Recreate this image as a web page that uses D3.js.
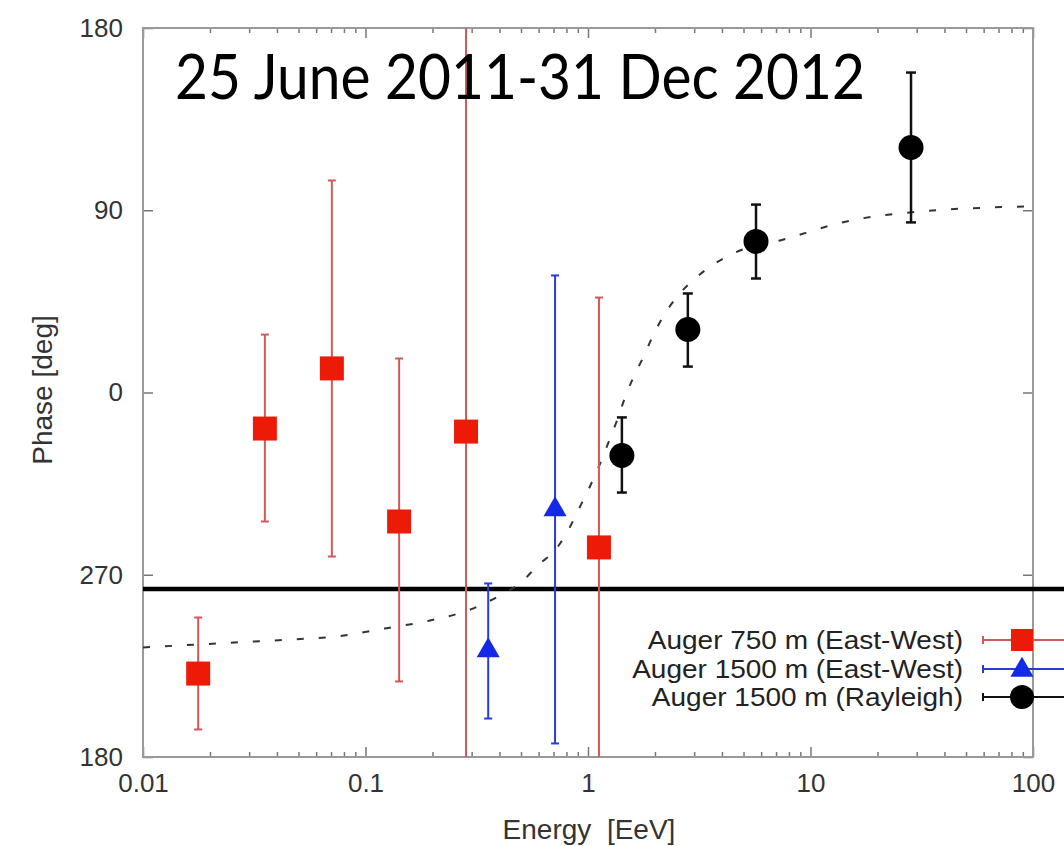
<!DOCTYPE html>
<html>
<head>
<meta charset="utf-8">
<script src="https://cdn.jsdelivr.net/npm/d3@7"></script>
<style>
  html, body { margin: 0; padding: 0; background: #fff; }
  svg { display: block; }
  .tick text { font-family: "Liberation Sans", Arial, sans-serif; fill: #333; }
</style>
</head>
<body>
<svg id="chart" width="1064" height="846"></svg>
<script>
// Auger 750 m array, East-West method
const energy750 = [0.0177, 0.0353, 0.0706, 0.1416, 0.283, 1.12];
const phase750  = [-138.8, -17.8, 11.9, -63.7, -19.3, -76.5];
const low750    = [-166.4, -63.7, -81.0, -142.7, -200, -200];
const high750   = [-111.1, 28.6, 104.7, 16.8, 200, 46.9];

// Auger 1500 m array, East-West method
const energyEW = [0.356, 0.711];
const phaseEW  = [-126.9, -57.3];
const lowEW    = [-161.0, -173.3];
const highEW   = [-94.3, 57.8];

// Auger 1500 m array, Rayleigh analysis
const energyRay = [1.42, 2.81, 5.69, 28.3];
const phaseRay  = [-31.1, 31.1, 74.6, 121.0];
const lowRay    = [-49.4, 12.8, 56.3, 84.0];
const highRay   = [-12.3, 48.9, 92.8, 158.0];

// Fitted phase curve (dashed)
const fitEnergy = [0.01, 0.0217, 0.0458, 0.0745, 0.1225, 0.195, 0.304, 0.402, 0.494, 0.608, 0.697, 0.805, 0.902, 1.01, 1.11, 1.23, 1.35, 1.45, 1.59, 1.77, 1.96, 2.22, 2.54, 3.03, 3.72, 4.58, 7.3, 15.1, 31, 66, 100];
const fitPhase  = [-125.9, -123.9, -122.0, -120.5, -116.5, -112.6, -106.7, -100.2, -94.3, -84.4, -79.0, -69.1, -58.3, -47.4, -37.5, -25.2, -13.8, -4.0, 6.9, 17.3, 28.1, 39.0, 47.9, 56.3, 63.7, 69.1, 75.1, 84.9, 89.4, 91.4, 91.9];

// Reference phase (solid horizontal line)
const refPhase = -97;

const xTicks = [0.01, 0.1, 1, 10, 100];
const xTickLabels = ["0.01", "0.1", "1", "10", "100"];
const yTicks = [-180, -90, 0, 90, 180];
const yTickLabels = ["180", "270", "0", "90", "180"];

const legendLabels = ["Auger 750 m (East-West)", "Auger 1500 m (East-West)", "Auger 1500 m (Rayleigh)"];
const titleText = "25 June 2011-31 Dec 2012";

const svg = d3.select("#chart");
const W = 1064, H = 846;
const plotLeft = 143, plotRight = 1033, plotTop = 28, plotBottom = 757;

const x = d3.scaleLog().domain([0.01, 100]).range([plotLeft, plotRight]);
const y = d3.scaleLinear().domain([-180, 180]).range([plotBottom, plotTop]);

svg.append("rect").attr("width", W).attr("height", H).attr("fill", "#fff");

svg.append("defs").append("clipPath").attr("id", "plotClip")
  .append("rect").attr("x", plotLeft).attr("y", plotTop)
  .attr("width", plotRight - plotLeft).attr("height", plotBottom - plotTop);

// minor log ticks
const minor = [];
for (let d = 0.01; d < 100; d *= 10) for (let k = 2; k <= 9; k++) minor.push(+(d * k).toPrecision(3));

function styleAxis(g) {
  g.select(".domain").remove();
  g.selectAll(".tick line").attr("stroke", "#777").attr("stroke-width", 1.5);
}

svg.append("g").attr("transform", `translate(0,${plotBottom})`)
  .call(d3.axisBottom(x).tickValues(minor).tickFormat("").tickSize(-5)).call(styleAxis);
svg.append("g").attr("transform", `translate(0,${plotTop})`)
  .call(d3.axisTop(x).tickValues(minor).tickFormat("").tickSize(-5)).call(styleAxis);
svg.append("g").attr("transform", `translate(0,${plotTop})`)
  .call(d3.axisTop(x).tickValues(xTicks).tickFormat("").tickSize(-10)).call(styleAxis);

const xAxis = svg.append("g").attr("transform", `translate(0,${plotBottom})`)
  .call(d3.axisBottom(x).tickValues(xTicks).tickFormat((d, i) => xTickLabels[i]).tickSize(-10).tickPadding(17))
  .call(styleAxis);
xAxis.selectAll(".tick text").attr("font-size", 26);

const yAxis = svg.append("g").attr("transform", `translate(${plotLeft},0)`)
  .call(d3.axisLeft(y).tickValues(yTicks).tickFormat((d, i) => yTickLabels[i]).tickSize(-10).tickPadding(20))
  .call(styleAxis);
yAxis.selectAll(".tick text").attr("font-size", 26);
svg.append("g").attr("transform", `translate(${plotRight},0)`)
  .call(d3.axisRight(y).tickValues(yTicks).tickFormat("").tickSize(-10)).call(styleAxis);

// frame
svg.append("rect").attr("x", plotLeft).attr("y", plotTop)
  .attr("width", plotRight - plotLeft).attr("height", plotBottom - plotTop)
  .attr("fill", "none").attr("stroke", "#999").attr("stroke-width", 2);

// axis titles
svg.append("text").attr("x", 589).attr("y", 839).attr("text-anchor", "middle")
  .attr("font-family", "Liberation Sans, Arial, sans-serif").attr("font-size", 28).attr("fill", "#333")
  .attr("xml:space", "preserve").text("Energy  [EeV]");
svg.append("text").attr("transform", "translate(52,390) rotate(-90)").attr("text-anchor", "middle")
  .attr("font-family", "Liberation Sans, Arial, sans-serif").attr("font-size", 28).attr("fill", "#333")
  .text("Phase [deg]");

// reference line
svg.append("line").attr("x1", plotLeft).attr("x2", W).attr("y1", y(refPhase)).attr("y2", y(refPhase))
  .attr("stroke", "#000").attr("stroke-width", 4.5);

const plot = svg.append("g").attr("clip-path", "url(#plotClip)");

// fitted curve
const fitData = fitEnergy.map((e, i) => [e, fitPhase[i]]);
plot.append("path").datum(fitData)
  .attr("d", d3.line().x(d => x(d[0])).y(d => y(d[1])).curve(d3.curveMonotoneX))
  .attr("fill", "none").attr("stroke", "#333").attr("stroke-width", 2).attr("stroke-dasharray", "7,15");

function errorBars(en, lo, hi, color, width, cap) {
  const g = plot.append("g").attr("stroke", color).attr("stroke-width", width);
  en.forEach((e, i) => {
    const cx = x(e);
    g.append("line").attr("x1", cx).attr("x2", cx).attr("y1", y(lo[i])).attr("y2", y(hi[i]));
    [lo[i], hi[i]].forEach(v => {
      g.append("line").attr("x1", cx - cap).attr("x2", cx + cap).attr("y1", y(v)).attr("y2", y(v));
    });
  });
}

errorBars(energy750, low750, high750, "#d45858", 2, 4);
errorBars(energyEW, lowEW, highEW, "#2a3bdb", 2, 4);
errorBars(energyRay, lowRay, highRay, "#111", 2.5, 5);

const sq = 24;
plot.selectAll(".sq").data(energy750).enter().append("rect")
  .attr("x", d => x(d) - sq / 2).attr("y", (d, i) => y(phase750[i]) - sq / 2)
  .attr("width", sq).attr("height", sq).attr("fill", "#ee1a08");

const tri = d3.symbol().type(d3.symbolTriangle).size(230);
plot.selectAll(".tri").data(energyEW).enter().append("path")
  .attr("transform", (d, i) => `translate(${x(d)},${y(phaseEW[i]) + 1})`)
  .attr("d", tri).attr("fill", "#1428e8");

plot.selectAll(".dot").data(energyRay).enter().append("circle")
  .attr("cx", d => x(d)).attr("cy", (d, i) => y(phaseRay[i])).attr("r", 12.5).attr("fill", "#000");

// legend
const legendY = [640, 669, 697];
const legendColors = ["#d45858", "#2a3bdb", "#111"];
const legend = svg.append("g");
legendLabels.forEach((lab, i) => {
  legend.append("text").attr("transform", `translate(963,${legendY[i]}) scale(1.12,1)`).attr("dy", "0.35em")
    .attr("text-anchor", "end").attr("font-family", "Liberation Sans, Arial, sans-serif")
    .attr("font-size", 25).attr("fill", "#222").text(lab);
  legend.append("line").attr("x1", 983).attr("x2", W).attr("y1", legendY[i]).attr("y2", legendY[i])
    .attr("stroke", legendColors[i]).attr("stroke-width", 2);
  legend.append("line").attr("x1", 983).attr("x2", 983).attr("y1", legendY[i] - 4).attr("y2", legendY[i] + 4)
    .attr("stroke", legendColors[i]).attr("stroke-width", 2);
});
legend.append("rect").attr("x", 1022 - 11).attr("y", legendY[0] - 11).attr("width", 22).attr("height", 22).attr("fill", "#ee1a08");
legend.append("path").attr("transform", `translate(1022,${legendY[1] + 1})`).attr("d", tri).attr("fill", "#1428e8");
legend.append("circle").attr("cx", 1022).attr("cy", legendY[2]).attr("r", 12).attr("fill", "#000");

// title
svg.append("text").attr("x", 175).attr("y", 99)
  .attr("font-family", "Lato, 'Open Sans', sans-serif").attr("font-size", 61).attr("fill", "#000")
  .attr("textLength", 690).attr("lengthAdjust", "spacingAndGlyphs")
  .text(titleText);
</script>
</body>
</html>
